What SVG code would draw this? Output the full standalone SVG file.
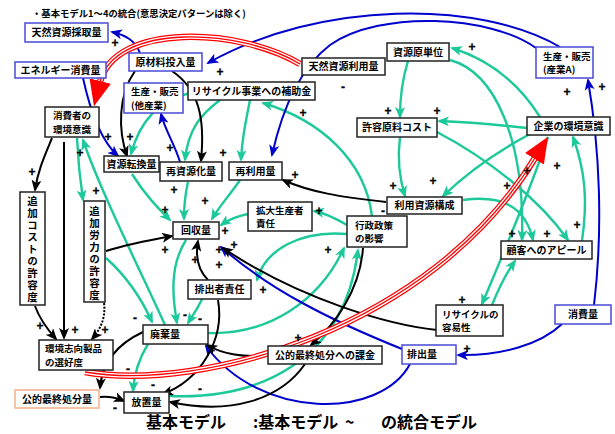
<svg xmlns="http://www.w3.org/2000/svg" width="615" height="434" viewBox="0 0 615 434">
<style>
.t{fill:none;stroke:#1dc99a;stroke-width:2.4}
.b{fill:none;stroke:#0000cc;stroke-width:2}
.k{fill:none;stroke:#000;stroke-width:2}
.rd1{fill:none;stroke:#ff0000;stroke-width:6.5}
.rd2{fill:none;stroke:#ffffff;stroke-width:4}
.rd3{fill:none;stroke:#ff0000;stroke-width:1.3}
.nb rect{fill:#fff;stroke:#222;stroke-width:1.5}
.nu rect{fill:#fff;stroke:#4a4ad6;stroke-width:1.5}
.no rect{fill:#fff;stroke:#f5b08a;stroke-width:1.5}
text{font-family:"Noto Sans CJK JP","Noto Sans",sans-serif;font-weight:bold;font-size:10px;fill:#000}
.c{text-anchor:middle}
.m{font-size:9.5px}
.s{font-family:"Liberation Sans",Arial,sans-serif;font-size:12px;text-anchor:middle;stroke:#000;stroke-width:0.3}
.v{font-size:10.5px;writing-mode:vertical-rl;letter-spacing:1.5px}
.ttl{font-size:16px}
.top{font-size:9.35px}
</style>
<defs>
<marker id="mt" viewBox="0 0 12 10" refX="10" refY="5" markerWidth="12" markerHeight="10" markerUnits="userSpaceOnUse" orient="auto"><path d="M0,0 L12,5 L0,10 L3,5z" fill="#1dc99a"/></marker>
<marker id="mb" viewBox="0 0 12 10" refX="10" refY="5" markerWidth="12" markerHeight="10" markerUnits="userSpaceOnUse" orient="auto"><path d="M0,0 L12,5 L0,10 L3,5z" fill="#0000cc"/></marker>
<marker id="mk" viewBox="0 0 12 10" refX="10" refY="5" markerWidth="12" markerHeight="10" markerUnits="userSpaceOnUse" orient="auto"><path d="M0,0 L12,5 L0,10 L3,5z" fill="#000"/></marker>
<marker id="mr" viewBox="0 0 26 22" refX="1" refY="11" markerWidth="26" markerHeight="22" markerUnits="userSpaceOnUse" orient="auto"><path d="M0,0 L26,11 L0,22z" fill="#ff0000"/></marker>
</defs>

<g id="connectors">
<!-- teal -->
<path class="t" marker-end="url(#mt)" d="M372,216 C365,160 320,120 263,103"/>
<path class="t" marker-end="url(#mt)" d="M250,100 C245,125 242,140 241,160"/>
<path class="t" marker-end="url(#mt)" d="M220,100 C200,115 188,130 185,160"/>
<path class="t" marker-end="url(#mt)" d="M190,93 C160,100 140,120 131,154"/>
<path class="t" marker-end="url(#mt)" d="M132,174 C145,195 158,208 170,220"/>
<path class="t" marker-end="url(#mt)" d="M188,182 C185,195 184,205 184,219"/>
<path class="t" marker-end="url(#mt)" d="M240,180 C230,195 220,205 212,219"/>
<path class="t" marker-end="url(#mt)" d="M248,214 C238,216 228,220 221,225"/>
<path class="t" marker-end="url(#mt)" d="M347,225 C335,218 325,213 314,211"/>
<path class="t" marker-end="url(#mt)" d="M347,234 C300,230 265,250 257,280"/>
<path class="t" marker-end="url(#mt)" d="M208,333 C270,335 320,300 344,248"/>
<path class="t" marker-end="url(#mt)" d="M169,396 C260,400 345,360 358,250"/>
<path class="t" marker-end="url(#mt)" d="M408,61 C402,80 400,100 400,117"/>
<path class="t" marker-end="url(#mt)" d="M400,137 C397,160 400,180 405,196"/>
<path class="t" marker-end="url(#mt)" d="M527,128 C500,125 470,122 439,121"/>
<path class="t" marker-end="url(#mt)" d="M540,117 C520,85 490,60 452,48"/>
<path class="t" marker-end="url(#mt)" d="M530,134 C500,150 470,170 443,196"/>
<path class="t" marker-end="url(#mt)" d="M463,200 C500,195 525,205 533,240"/>
<path class="t" marker-end="url(#mt)" d="M437,132 C490,160 540,200 568,240"/>
<path class="t" marker-end="url(#mt)" d="M450,60 C495,72 525,140 522,240"/>
<path class="t" marker-end="url(#mt)" d="M582,241 C588,200 585,170 573,137"/>
<path class="t" marker-end="url(#mt)" d="M548,137 C530,190 505,250 482,304"/>
<path class="t" marker-end="url(#mt)" d="M492,305 C498,290 505,275 515,261"/>
<path class="t" marker-end="url(#mt)" d="M77,138 C78,160 80,180 83,200"/>
<path class="t" marker-end="url(#mt)" d="M165,325 C140,270 100,190 83,140"/>
<path class="t" marker-end="url(#mt)" d="M106,258 C125,275 140,295 152,322"/>
<path class="t" marker-end="url(#mt)" d="M186,240 C170,265 172,295 177,323"/>
<path class="t" marker-end="url(#mt)" d="M202,299 C198,308 193,315 188,323"/>
<path class="t" marker-end="url(#mt)" d="M148,344 C138,360 134,375 133,391"/>
<!-- blue -->
<path class="b" marker-end="url(#mb)" d="M140,53 C135,40 125,35 112,32"/>
<path class="b" marker-end="url(#mb)" d="M560,47 C480,0 320,0 208,63"/>
<path class="b" marker-end="url(#mb)" d="M536,48 C490,15 380,10 330,45 C300,68 282,110 272,155"/>
<path class="b" marker-end="url(#mb)" d="M594,305 C603,230 600,150 588,80"/>
<path class="b" marker-end="url(#mb)" d="M562,324 C540,345 500,356 458,355"/>
<path class="b" marker-end="url(#mb)" d="M402,349 C330,320 270,290 221,247"/>
<path class="b" marker-end="url(#mb)" d="M410,364 C380,420 260,420 206,346"/>
<path class="b" marker-end="url(#mb)" d="M83,78 C90,110 100,140 118,156"/>
<path class="b" marker-end="url(#mb)" d="M180,162 C175,145 165,130 161,114"/>
<!-- black -->
<path class="k" marker-end="url(#mk)" d="M135,71 C118,95 118,130 127,156"/>
<path class="k" marker-end="url(#mk)" d="M172,71 C200,90 205,120 201,161"/>
<path class="k" marker-end="url(#mk)" d="M52,138 C45,155 38,170 35,190"/>
<path class="k" marker-end="url(#mk)" d="M64,142 L64,338"/>
<path class="k" marker-end="url(#mk)" d="M35,306 C40,320 48,330 56,339"/>
<path class="k" marker-end="url(#mk)" stroke-dasharray="2 1.5" d="M104,303 C106,318 100,330 92,339"/>
<path class="k" marker-end="url(#mk)" d="M106,251 C125,245 150,240 172,236"/>
<path class="k" marker-end="url(#mk)" d="M208,280 C198,270 195,258 198,241"/>
<path class="k" marker-end="url(#mk)" d="M218,300 C225,340 200,380 163,394"/>
<path class="k" marker-end="url(#mk)" d="M143,332 C115,345 102,365 100,388"/>
<path class="k" marker-end="url(#mk)" d="M100,397 C110,396 117,398 124,401"/>
<path class="k" marker-end="url(#mk)" d="M305,364 C280,400 230,415 170,402"/>
<path class="k" marker-end="url(#mk)" d="M268,355 C245,358 222,354 207,345"/>
<path class="k" marker-end="url(#mk)" d="M363,248 C360,290 335,325 311,345"/>
<path class="k" marker-end="url(#mk)" d="M437,330 C390,325 300,300 223,248"/>
<path class="k" marker-end="url(#mk)" d="M386,202 C340,197 310,192 283,180"/>
<!-- red -->
<path class="rd1" d="M300,64 C240,28 115,22 100,82"/>
<path class="rd2" d="M300,64 C240,28 115,22 100,82"/>
<path class="rd3" marker-end="url(#mr)" d="M300,64 C240,28 115,22 100,82"/>
<path class="rd1" d="M85,372 C200,392 430,330 535,158"/>
<path class="rd2" d="M85,372 C200,392 430,330 535,158"/>
<path class="rd3" marker-end="url(#mr)" d="M85,372 C200,392 430,330 535,158"/>
</g>

<g id="n-tennen-saishu" class="nu"><rect x="25" y="23" width="83" height="19"/><text class="c" x="66.5" y="36">天然資源採取量</text></g>
<g id="n-energy" class="nu"><rect x="15" y="62" width="91" height="16"/><text class="c" x="60.5" y="73.5">エネルギー消費量</text></g>
<g id="n-genzairyo" class="nu"><rect x="129" y="53" width="73" height="18"/><text class="c" x="165.5" y="65.5">原材料投入量</text></g>
<g id="n-seisan-ta" class="nu"><rect x="124" y="83" width="59" height="30"/><text class="m" x="131" y="95">生産・販売</text><text class="m" x="131" y="108.8">(他産業)</text></g>
<g id="n-shohisha" class="nb"><rect x="45" y="107" width="54" height="30"/><text class="m" x="53" y="119">消費者の</text><text class="m" x="53" y="132.8">環境意識</text></g>
<g id="n-hojokin" class="nb"><rect x="188" y="82" width="127" height="18"/><text class="c" x="251.5" y="94.5">リサイクル事業への補助金</text></g>
<g id="n-tennen-riyo" class="nb"><rect x="302" y="58" width="83" height="17"/><text class="c" x="343.5" y="70">天然資源利用量</text></g>
<g id="n-gentani" class="nb"><rect x="387" y="43" width="62" height="18"/><text class="c" x="418" y="55.5">資源原単位</text></g>
<g id="n-seisan-a" class="nu"><rect x="536" y="47" width="57" height="31"/><text class="m" x="543" y="59.5">生産・販売</text><text class="m" x="543" y="73.3">(産業A)</text></g>
<g id="n-kyoyo" class="nb"><rect x="357" y="118" width="80" height="19"/><text class="c" x="397" y="131">許容原料コスト</text></g>
<g id="n-kigyo" class="nb"><rect x="527" y="117" width="83" height="18"/><text class="c" x="568.5" y="129.5">企業の環境意識</text></g>
<g id="n-tenkan" class="nb"><rect x="104" y="156" width="55" height="16"/><text class="c" x="131.5" y="167.5">資源転換量</text></g>
<g id="n-saishigen" class="nb"><rect x="160" y="162" width="62" height="19"/><text class="c" x="191" y="175">再資源化量</text></g>
<g id="n-sairiyo" class="nb"><rect x="229" y="162" width="53" height="18"/><text class="c" x="255.5" y="174.5">再利用量</text></g>
<g id="n-kosei" class="nb"><rect x="387" y="197" width="75" height="17"/><text class="c" x="424.5" y="209">利用資源構成</text></g>
<g id="n-cost" class="nb"><rect x="20" y="192" width="25" height="113"/><text class="v" x="32.5" y="196">追加コストの許容度</text></g>
<g id="n-roryoku" class="nb"><rect x="84" y="201" width="21" height="101"/><text class="v" x="94.5" y="206">追加労力の許容度</text></g>
<g id="n-kakudai" class="nb"><rect x="248" y="202" width="64" height="29"/><text class="m" x="256" y="213.5">拡大生産者</text><text class="m" x="256" y="227.3">責任</text></g>
<g id="n-gyosei" class="nb"><rect x="347" y="216" width="60" height="31"/><text class="m" x="355" y="228.5">行政政策</text><text class="m" x="355" y="242.3">の影響</text></g>
<g id="n-kaishu" class="nb"><rect x="173" y="222" width="46" height="17"/><text class="c" x="196" y="234">回収量</text></g>
<g id="n-appeal" class="nb"><rect x="501" y="241" width="91" height="18"/><text class="c" x="546.5" y="253.5">顧客へのアピール</text></g>
<g id="n-haishutsusha" class="nb"><rect x="188" y="280" width="63" height="19"/><text class="c" x="219.5" y="293">排出者責任</text></g>
<g id="n-haiki" class="nb"><rect x="143" y="325" width="65" height="19"/><text x="150" y="338">廃棄量</text></g>
<g id="n-yoisei" class="nb"><rect x="436" y="305" width="67" height="31"/><text class="m" x="442" y="317.5">リサイクルの</text><text class="m" x="442" y="331.3">容易性</text></g>
<g id="n-shohi" class="nu"><rect x="555" y="305" width="56" height="19"/><text class="c" x="583" y="318">消費量</text></g>
<g id="n-sentaku" class="nb"><rect x="39" y="340" width="74" height="30"/><text class="m" x="45" y="352">環境志向製品</text><text class="m" x="45" y="365.8">の選好度</text></g>
<g id="n-kakin" class="nb"><rect x="268" y="346" width="114" height="18"/><text class="c" x="325" y="358.5">公的最終処分への課金</text></g>
<g id="n-haishutsu" class="nu"><rect x="402" y="345" width="54" height="19"/><text x="407" y="358">排出量</text></g>
<g id="n-shobun" class="no"><rect x="15" y="390" width="84" height="18"/><text class="c" x="57" y="402.5">公的最終処分量</text></g>
<g id="n-hochi" class="nb"><rect x="124" y="392" width="45" height="21"/><text class="c" x="146.5" y="406">放置量</text></g>

<g id="signs">
<text class="s" x="115" y="47">+</text>
<text class="s" x="220" y="76">+</text>
<text class="s" x="343" y="91">-</text>
<text class="s" x="303" y="117">+</text>
<text class="s" x="388" y="115">+</text>
<text class="s" x="437" y="115">+</text>
<text class="s" x="472" y="51">+</text>
<text class="s" x="567" y="96">+</text>
<text class="s" x="602" y="91">+</text>
<text class="s" x="108" y="141">+</text>
<text class="s" x="130" y="141">+</text>
<text class="s" x="32" y="176">+</text>
<text class="s" x="80" y="157">+</text>
<text class="s" x="96" y="195">+</text>
<text class="s" x="170" y="152">+</text>
<text class="s" x="223" y="157">+</text>
<text class="s" x="174" y="194">+</text>
<text class="s" x="205" y="205">+</text>
<text class="s" x="165" y="214">+</text>
<text class="s" x="295" y="179">+</text>
<text class="s" x="393" y="190">+</text>
<text class="s" x="433" y="185">+</text>
<text class="s" x="507" y="190">+</text>
<text class="s" x="383" y="215">-</text>
<text class="s" x="319" y="215">+</text>
<text class="s" x="225" y="235">+</text>
<text class="s" x="165" y="254">+</text>
<text class="s" x="195" y="264">+</text>
<text class="s" x="219" y="254">+</text>
<text class="s" x="234" y="249">+</text>
<text class="s" x="219" y="269">+</text>
<text class="s" x="328" y="254">+</text>
<text class="s" x="263" y="294">+</text>
<text class="s" x="527" y="175">+</text>
<text class="s" x="557" y="170">+</text>
<text class="s" x="577" y="229">+</text>
<text class="s" x="547" y="238">+</text>
<text class="s" x="512" y="238">+</text>
<text class="s" x="40" y="330">+</text>
<text class="s" x="75" y="334">+</text>
<text class="s" x="105" y="334">+</text>
<text class="s" x="135" y="322">-</text>
<text class="s" x="185" y="319">-</text>
<text class="s" x="200" y="323">-</text>
<text class="s" x="128" y="373">-</text>
<text class="s" x="153" y="389">-</text>
<text class="s" x="115" y="412">-</text>
<text class="s" x="200" y="393">-</text>
<text class="s" x="298" y="342">+</text>
<text class="s" x="462" y="304">+</text>
<text class="s" x="467" y="353">+</text>
</g>

<text class="top" x="32" y="17">・基本モデル1～4の統合(意思決定パターンは除く)</text>
<text class="ttl" x="146" y="428">基本モデル</text>
<text class="ttl" x="253" y="428">:基本モデル</text>
<text class="ttl" x="345" y="428">~</text>
<text class="ttl" x="381" y="428">の統合モデル</text>
</svg>
